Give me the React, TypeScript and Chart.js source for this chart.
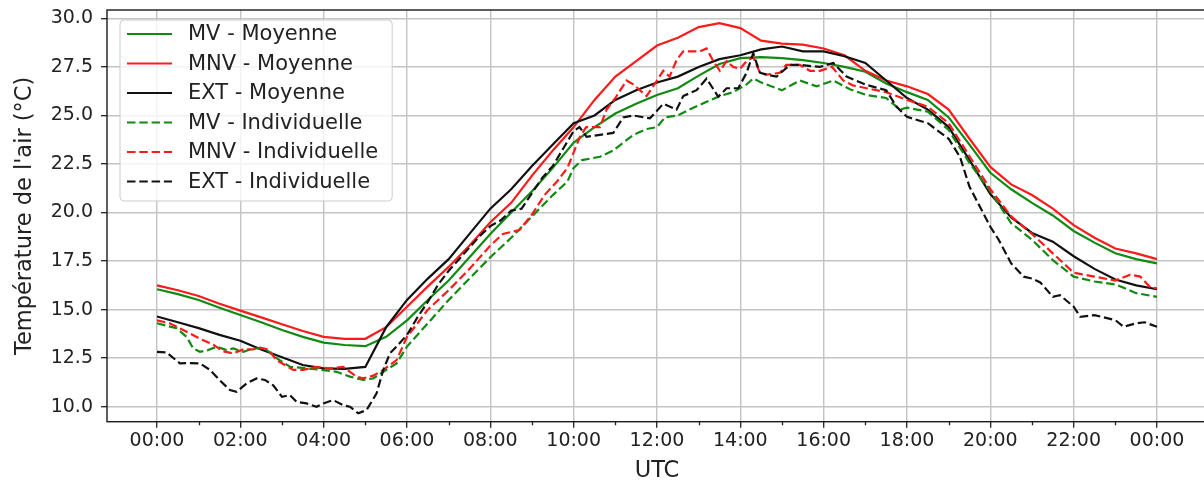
import React, { useEffect, useRef } from 'react';
import { Chart, registerables } from 'chart.js';

Chart.register(...registerables);

const FONT = '"DejaVu Sans", sans-serif';

// Time axis (hours after 00:00 UTC) for the mean series
const halfHours = [0, 0.5, 1, 1.5, 2, 2.5, 3, 3.5, 4, 4.5, 5, 5.5, 6, 6.5, 7, 7.5, 8, 8.5, 9, 9.5, 10, 10.5, 11, 11.5, 12, 12.5, 13, 13.5, 14, 14.5, 15, 15.5, 16, 16.5, 17, 17.5, 18, 18.5, 19, 19.5, 20, 20.5, 21, 21.5, 22, 22.5, 23, 23.5, 24];

const mvMoyenne = [16.05, 15.8, 15.5, 15.1, 14.72, 14.35, 13.95, 13.6, 13.3, 13.18, 13.12, 13.6, 14.45, 15.5, 16.5, 17.7, 18.9, 20.0, 21.1, 22.3, 23.6, 24.4, 25.1, 25.6, 26.05, 26.4, 27.05, 27.65, 27.95, 28.0, 27.95, 27.85, 27.7, 27.5, 27.25, 26.65, 26.2, 25.8, 24.9, 23.5, 22.05, 21.2, 20.5, 19.85, 19.05, 18.45, 17.9, 17.6, 17.38];
const mnvMoyenne = [16.25, 16.0, 15.7, 15.3, 14.95, 14.6, 14.25, 13.9, 13.6, 13.5, 13.5, 14.1, 15.15, 16.2, 17.2, 18.3, 19.5, 20.5, 21.9, 23.2, 24.4, 25.8, 27.0, 27.8, 28.6, 29.0, 29.55, 29.75, 29.5, 28.85, 28.7, 28.65, 28.45, 28.1, 27.3, 26.8, 26.5, 26.1, 25.3, 23.8, 22.35, 21.45, 20.9, 20.2, 19.35, 18.7, 18.15, 17.9, 17.6];
const extMoyenne = [14.65, 14.35, 14.05, 13.7, 13.4, 12.95, 12.55, 12.15, 11.98, 11.95, 12.05, 14.1, 15.5, 16.6, 17.6, 18.9, 20.2, 21.2, 22.4, 23.5, 24.6, 25.0, 25.8, 26.3, 26.7, 27.0, 27.5, 27.9, 28.1, 28.4, 28.55, 28.3, 28.3, 28.05, 27.7, 26.8, 25.9, 25.3, 24.4, 22.7, 20.95, 19.75, 18.95, 18.5, 17.75, 17.1, 16.55, 16.25, 16.05];

// Individual series (irregular sampling)
const mvIndHours = [0, 0.47, 0.71, 0.87, 1.03, 1.23, 1.43, 1.67, 1.83, 2.07, 2.31, 2.59, 2.87, 3.19, 3.59, 3.99, 4.31, 4.63, 4.95, 5.19, 5.43, 5.75, 6.0, 6.5, 7.0, 7.5, 8.0, 8.5, 9.0, 9.5, 9.85, 10.0, 10.2, 10.63, 10.95, 11.43, 11.75, 12.0, 12.19, 12.5, 12.87, 13.19, 13.51, 13.83, 14.15, 14.31, 14.5, 15.0, 15.43, 15.83, 16.23, 16.63, 17.03, 17.5, 17.83, 18.0, 18.5, 19.0, 19.5, 20.0, 20.5, 21.0, 21.5, 22.0, 22.5, 23.0, 23.5, 24.0];
const mvIndividuelle = [14.3, 14.04, 13.6, 13.0, 12.83, 12.92, 13.09, 12.92, 13.0, 12.83, 13.0, 13.0, 12.5, 12.06, 11.98, 11.89, 11.8, 11.55, 11.38, 11.46, 11.8, 12.23, 13.1, 14.3, 15.5, 16.6, 17.7, 18.7, 19.8, 20.9, 21.6, 22.3, 22.7, 22.87, 23.2, 24.0, 24.3, 24.4, 24.9, 25.0, 25.4, 25.7, 26.0, 26.2, 26.6, 26.9, 26.7, 26.3, 26.8, 26.5, 26.8, 26.35, 26.05, 25.9, 25.3, 25.4, 25.2, 24.25, 22.55, 21.1, 19.45, 18.6, 17.55, 16.7, 16.45, 16.3, 15.85, 15.66];

const mnvIndHours = [0, 0.3, 0.63, 1.03, 1.35, 1.59, 1.83, 2.07, 2.3, 2.47, 2.67, 2.87, 3.27, 3.51, 3.83, 4.15, 4.47, 4.79, 4.95, 5.19, 5.43, 5.75, 6.0, 6.25, 6.5, 6.75, 7.0, 7.5, 8.0, 8.3, 8.7, 9.0, 9.3, 9.6, 9.85, 10.0, 10.15, 10.3, 10.63, 10.79, 11.0, 11.27, 11.43, 11.75, 12.0, 12.15, 12.3, 12.47, 12.63, 13.03, 13.19, 13.35, 13.51, 13.67, 13.83, 13.99, 14.15, 14.31, 14.47, 14.63, 14.95, 15.1, 15.43, 15.67, 15.91, 16.2, 16.47, 16.7, 17.03, 17.5, 18.0, 18.5, 19.0, 19.5, 20.0, 20.5, 21.0, 21.5, 22.0, 22.5, 23.0, 23.36, 23.6, 23.84, 24.0];
const mnvIndividuelle = [14.45, 14.3, 13.95, 13.5, 13.2, 12.85, 12.75, 12.95, 12.95, 13.05, 12.95, 12.4, 11.9, 11.9, 12.05, 11.98, 12.05, 11.55, 11.46, 11.6, 11.9, 12.4, 13.6, 14.3, 15.0, 15.5, 16.0, 17.1, 18.3, 18.9, 19.1, 19.9, 20.9, 21.6, 22.3, 23.1, 23.9, 24.4, 24.4, 25.3, 25.9, 26.8, 26.6, 26.0, 26.8, 27.3, 27.0, 27.85, 28.3, 28.3, 28.45, 27.8, 27.3, 27.8, 27.5, 27.4, 27.8, 28.0, 27.2, 27.1, 27.2, 27.6, 27.6, 27.3, 27.3, 27.5, 26.8, 26.55, 26.4, 26.2, 25.8, 25.45, 24.6, 22.9, 21.2, 19.8, 18.9, 17.9, 16.9, 16.7, 16.5, 16.8, 16.7, 16.15, 16.1];

const extIndHours = [0, 0.23, 0.55, 0.79, 1.03, 1.27, 1.5, 1.75, 1.91, 2.15, 2.39, 2.59, 2.79, 3.0, 3.19, 3.35, 3.59, 3.83, 3.99, 4.23, 4.47, 4.63, 4.83, 5.03, 5.27, 5.43, 5.59, 5.75, 6.0, 6.25, 6.5, 6.75, 7.0, 7.25, 7.5, 7.75, 8.0, 8.25, 8.5, 8.75, 9.0, 9.25, 9.5, 9.75, 10.0, 10.14, 10.31, 10.63, 10.95, 11.19, 11.43, 11.83, 12.15, 12.47, 12.63, 12.95, 13.19, 13.47, 13.67, 13.95, 14.15, 14.31, 14.47, 14.63, 14.87, 15.19, 15.43, 15.91, 16.23, 16.55, 17.03, 17.5, 17.75, 18.0, 18.5, 19.0, 19.27, 19.5, 20.0, 20.2, 20.5, 20.8, 21.0, 21.2, 21.5, 21.67, 22.0, 22.16, 22.5, 23.0, 23.2, 23.5, 23.7, 24.0];
const extIndividuelle = [12.83, 12.8, 12.23, 12.25, 12.23, 11.9, 11.38, 10.86, 10.77, 11.2, 11.46, 11.38, 11.1, 10.51, 10.6, 10.25, 10.17, 10.0, 10.17, 10.34, 10.08, 10.0, 9.66, 9.83, 10.69, 11.89, 12.75, 13.1, 13.7, 14.6, 15.4, 16.3, 17.0, 17.6, 18.2, 18.8, 19.3, 19.6, 20.1, 20.2, 21.0, 21.8, 22.4, 23.3, 24.2, 24.4, 23.9, 24.0, 24.1, 24.9, 25.0, 24.85, 25.6, 25.3, 26.0, 26.3, 26.9, 25.96, 26.4, 26.4, 27.2, 28.2, 27.2, 27.1, 27.0, 27.6, 27.6, 27.5, 27.7, 27.0, 26.57, 26.3, 25.45, 24.93, 24.6, 23.8, 22.87, 21.33, 19.27, 18.6, 17.38, 16.7, 16.6, 16.4, 15.66, 15.75, 15.15, 14.63, 14.72, 14.46, 14.12, 14.3, 14.35, 14.12];

const seriesLabels = ['MV - Moyenne', 'MNV - Moyenne', 'EXT - Moyenne', 'MV - Individuelle', 'MNV - Individuelle', 'EXT - Individuelle'];

const xTickHours = [0, 2, 4, 6, 8, 10, 12, 14, 16, 18, 20, 22, 24];
const xTickLabels = ['00:00', '02:00', '04:00', '06:00', '08:00', '10:00', '12:00', '14:00', '16:00', '18:00', '20:00', '22:00', '00:00'];
const xMinorHours = [1, 3, 5, 7, 9, 11, 13, 15, 17, 19, 21, 23];
const yTickValues = [10, 12.5, 15, 17.5, 20, 22.5, 25, 27.5, 30];

const GREEN = '#118a11';
const RED = '#ff1a1a';
const BLACK = '#111111';
const DASH = [8.5, 3.8];

function pts(xs: number[], ys: number[]) {
  return xs.map((x, i) => ({ x, y: ys[i] }));
}

const framePlugin = {
  id: 'frameAndLegend',
  afterDraw(chart: any) {
    const { ctx, chartArea: a, scales } = chart;
    ctx.save();
    // minor ticks on the x axis
    ctx.strokeStyle = '#222';
    ctx.lineWidth = 1.3;
    for (const h of xMinorHours) {
      const px = Math.round(scales.x.getPixelForValue(h)) + 0.5;
      ctx.beginPath();
      ctx.moveTo(px, a.bottom);
      ctx.lineTo(px, a.bottom + 3.6);
      ctx.stroke();
    }
    // frame (spines)
    ctx.strokeStyle = '#1a1a1a';
    ctx.lineWidth = 1.4;
    ctx.strokeRect(a.left, a.top, a.right - a.left, a.bottom - a.top);

    // legend
    const font = '21px ' + FONT;
    ctx.font = font;
    const ds = chart.data.datasets;
    let maxW = 0;
    for (const d of ds) maxW = Math.max(maxW, ctx.measureText(d.label).width);
    const bx = a.left + 13;
    const by = a.top + 10;
    const bw = 68 + maxW + 14;
    const bh = 181;
    const r = 4;
    ctx.beginPath();
    ctx.moveTo(bx + r, by);
    ctx.lineTo(bx + bw - r, by);
    ctx.arcTo(bx + bw, by, bx + bw, by + r, r);
    ctx.lineTo(bx + bw, by + bh - r);
    ctx.arcTo(bx + bw, by + bh, bx + bw - r, by + bh, r);
    ctx.lineTo(bx + r, by + bh);
    ctx.arcTo(bx, by + bh, bx, by + bh - r, r);
    ctx.lineTo(bx, by + r);
    ctx.arcTo(bx, by, bx + r, by, r);
    ctx.closePath();
    ctx.fillStyle = 'rgba(255,255,255,0.8)';
    ctx.fill();
    ctx.strokeStyle = '#cccccc';
    ctx.lineWidth = 1;
    ctx.stroke();

    ds.forEach((d: any, i: number) => {
      const cy = by + 14 + i * 29.5;
      ctx.beginPath();
      ctx.setLineDash(d.borderDash || []);
      ctx.strokeStyle = d.borderColor;
      ctx.lineWidth = d.borderWidth;
      ctx.moveTo(bx + 7, cy);
      ctx.lineTo(bx + 52, cy);
      ctx.stroke();
      ctx.setLineDash([]);
      ctx.fillStyle = '#222';
      ctx.textBaseline = 'middle';
      ctx.textAlign = 'left';
      ctx.fillText(d.label, bx + 68, cy + 1);
    });
    ctx.restore();
  },
};

export default function App() {
  const ref = useRef<HTMLCanvasElement | null>(null);

  useEffect(() => {
    if (!ref.current) return;
    const mk = (label: string, xs: number[], ys: number[], color: string, dashed: boolean, order: number) => ({
      label,
      data: pts(xs, ys),
      borderColor: color,
      backgroundColor: color,
      borderWidth: 2.2,
      borderDash: dashed ? DASH : [],
      pointRadius: 0,
      tension: 0,
      fill: false,
      order,
    });
    const chart = new Chart(ref.current, {
      type: 'line',
      data: {
        datasets: [
          mk(seriesLabels[0], halfHours, mvMoyenne, GREEN, false, 5),
          mk(seriesLabels[1], halfHours, mnvMoyenne, RED, false, 4),
          mk(seriesLabels[2], halfHours, extMoyenne, BLACK, false, 3),
          mk(seriesLabels[3], mvIndHours, mvIndividuelle, GREEN, true, 2),
          mk(seriesLabels[4], mnvIndHours, mnvIndividuelle, RED, true, 1),
          mk(seriesLabels[5], extIndHours, extIndividuelle, BLACK, true, 0),
        ],
      },
      options: {
        responsive: false,
        animation: false,
        devicePixelRatio: 1,
        layout: { padding: { left: 0, top: 10, right: 3, bottom: 0 } },
        plugins: { legend: { display: false }, tooltip: { enabled: false } },
        scales: {
          x: {
            type: 'linear',
            min: -1.2,
            max: 25.2,
            afterBuildTicks: (s: any) => {
              s.ticks = xTickHours.map((v) => ({ value: v }));
            },
            afterFit: (s: any) => {
              s.height = 60.3;
              s.paddingLeft = 0;
              s.paddingRight = 0;
            },
            ticks: {
              autoSkip: false,
              maxRotation: 0,
              padding: 2,
              color: '#222',
              font: { family: FONT, size: 19 },
              callback: (_v: any, i: number) => xTickLabels[i],
            },
            grid: { color: '#c4c4c4', lineWidth: 1.4, drawTicks: true, tickLength: 6, tickColor: '#222', tickWidth: 1.3 },
            border: { display: false },
            title: { display: true, text: 'UTC', color: '#222', font: { family: FONT, size: 22.5, lineHeight: 1 }, padding: { top: 0, bottom: 0 } },
          },
          y: {
            type: 'linear',
            min: 9.23,
            max: 30.43,
            afterBuildTicks: (s: any) => {
              s.ticks = yTickValues.map((v) => ({ value: v }));
            },
            afterFit: (s: any) => {
              s.width = 107;
              s.paddingTop = 0;
              s.paddingBottom = 0;
            },
            ticks: {
              padding: 8,
              color: '#222',
              font: { family: FONT, size: 19 },
              callback: (v: any) => Number(v).toFixed(1),
            },
            grid: { color: '#c4c4c4', lineWidth: 1.4, drawTicks: true, tickLength: 6, tickColor: '#222', tickWidth: 1.3 },
            border: { display: false },
            title: { display: true, text: "Température de l'air (°C)", color: '#222', font: { family: FONT, size: 22.5, lineHeight: 1 }, padding: { top: 14, bottom: 0 } },
          },
        },
      },
      plugins: [framePlugin],
    } as any);
    return () => chart.destroy();
  }, []);

  return (
    <div style={{ position: 'fixed', left: 0, top: 0, width: 1210, height: 482, background: '#fff' }}>
      <canvas ref={ref} width={1210} height={482} style={{ display: 'block' }} />
    </div>
  );
}
